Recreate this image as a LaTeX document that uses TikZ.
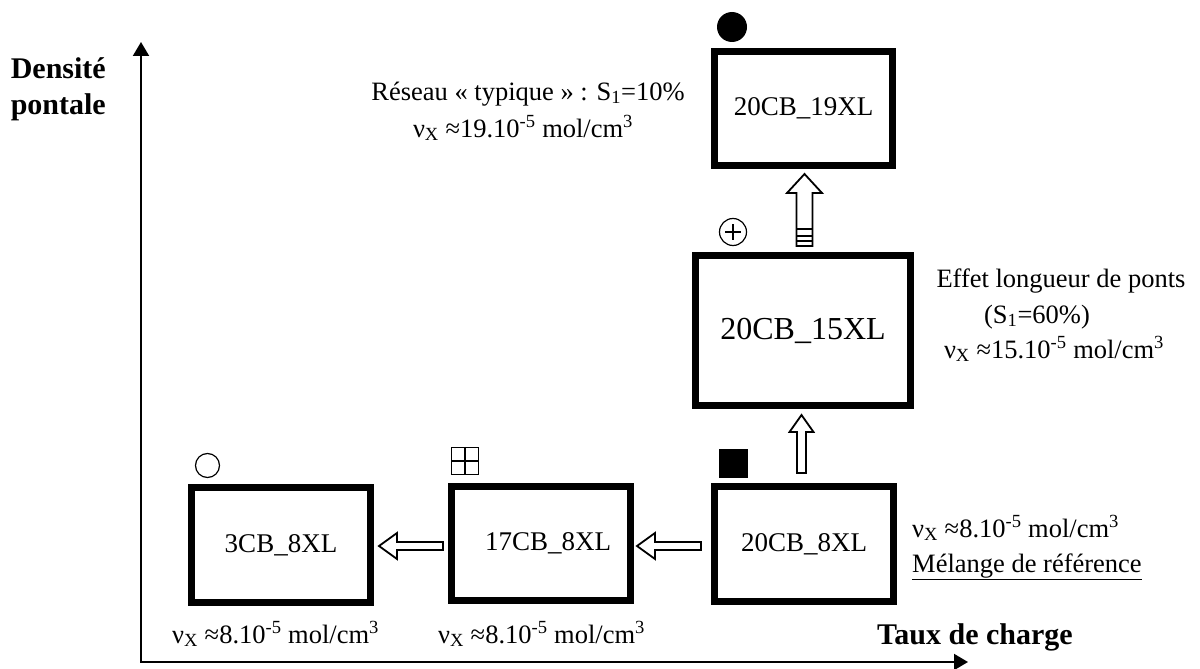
\documentclass[tikz,border=0pt]{standalone}
\usepackage{fontspec}
\setmainfont{Liberation Serif}
\usetikzlibrary{calc,arrows.meta}
\newcommand{\nuX}{ν\textsubscript{X}}
\newcommand{\mypow}[1]{\textsuperscript{#1}}
\begin{document}
\begin{tikzpicture}[x=1pt,y=-1pt,
  box/.style={draw, line width=7pt, rectangle, inner sep=0pt, font=\fontsize{27}{32}\selectfont},
  ann/.style={inner sep=0pt, font=\fontsize{26.5}{36}\selectfont, anchor=base},
  boldlab/.style={inner sep=0pt, font=\fontsize{30}{36}\selectfont\bfseries},
  axis/.style={line width=2pt, line cap=rect, -{Triangle[length=14pt,width=16pt]}},
  blk/.style={draw, line width=1.8pt, fill=white, line join=miter},
  thinline/.style={line width=1.2pt}]
\useasboundingbox (0,0) rectangle (1200,669);

% axes
\coordinate (O) at (141,662);
\coordinate (ytip) at (141,42);
\coordinate (xtip) at (968,662);
\draw[axis] (O) -- (ytip);
\draw[axis] (O) -- (xtip);

% boxes
\node[box, minimum width=178pt, minimum height=114pt] (b19) at (803.5,108.5) {20CB\_19XL};
\node[box, minimum width=215pt, minimum height=150pt, font=\fontsize{32}{38}\selectfont] (b15) at (803,330.5) {20CB\_15XL};
\node[box, minimum width=179pt, minimum height=115pt] (b8) at (804,544) {20CB\_8XL};
\node[box, minimum width=179pt, minimum height=114pt] (b17) at (541,543.5) {\hspace*{14pt}17CB\_8XL};
\node[box, minimum width=179pt, minimum height=115pt] (b3) at (281,545) {3CB\_8XL};

% block arrow b8 -> b15
\coordinate (a1tip) at ($(b15.south)+(-1.5,6)$);
\coordinate (a1tail) at ($(b8.north)+(-2.5,-10)$);
\draw[blk] let \p1=(a1tip), \p2=(a1tail) in
  (\x1,\y1) -- (\x1+12pt,\y1-17pt) -- (\x1+4.5pt,\y1-17pt) -- (\x1+4.5pt,\y2)
  -- (\x1-4.5pt,\y2) -- (\x1-4.5pt,\y1-17pt) -- (\x1-12pt,\y1-17pt) -- cycle;

% block arrow b15 -> b19
\coordinate (a2tip) at ($(b19.south)+(1,5)$);
\coordinate (a2tail) at ($(b15.north)+(2,-6)$);
\draw[blk] let \p1=(a2tip), \p2=(a2tail) in
  (\x1,\y1) -- (\x1+17.5pt,\y1-19pt) -- (\x1+8pt,\y1-19pt) -- (\x1+8pt,\y2)
  -- (\x1-8pt,\y2) -- (\x1-8pt,\y1-19pt) -- (\x1-17.5pt,\y1-19pt) -- cycle;
\draw[line width=1.8pt] let \p1=(a2tip), \p2=(a2tail) in
  (\x1-8pt,\y2+17pt) -- (\x1+8pt,\y2+17pt)
  (\x1-8pt,\y2+10pt) -- (\x1+8pt,\y2+10pt)
  (\x1-8pt,\y2+5pt) -- (\x1+8pt,\y2+5pt);

% block arrow b17 -> b3
\coordinate (l1tip) at ($(b3.east)+(5,1)$);
\coordinate (l1tail) at ($(b17.west)+(-5,2.5)$);
\draw[blk] let \p1=(l1tip), \p2=(l1tail) in
  (\x1,\y1) -- (\x1+18pt,\y1+13pt) -- (\x1+18pt,\y1+4pt) -- (\x2,\y1+4pt)
  -- (\x2,\y1-4pt) -- (\x1+18pt,\y1-4pt) -- (\x1+18pt,\y1-13pt) -- cycle;

% block arrow b8 -> b17
\coordinate (l2tip) at ($(b17.east)+(3,2.5)$);
\coordinate (l2tail) at ($(b8.west)+(-10,2)$);
\draw[blk] let \p1=(l2tip), \p2=(l2tail) in
  (\x1,\y1) -- (\x1+18pt,\y1+13pt) -- (\x1+18pt,\y1+4pt) -- (\x2,\y1+4pt)
  -- (\x2,\y1-4pt) -- (\x1+18pt,\y1-4pt) -- (\x1+18pt,\y1-13pt) -- cycle;

% markers
\node[circle, fill, inner sep=0pt, minimum size=30pt] (m19) at (732,27) {};
\node[circle, draw, thinline, inner sep=0pt, minimum size=27pt] (m15) at (733,232) {};
\draw[thinline] ($(m15.center)+(-8,0)$) -- ($(m15.center)+(8,0)$)
                ($(m15.center)+(0,-8)$) -- ($(m15.center)+(0,8)$);
\node[circle, draw, thinline, inner sep=0pt, minimum size=24pt] (m3) at (207.5,465.5) {};
\node[rectangle, draw, thinline, inner sep=0pt, minimum size=27pt] (m17) at (465,461) {};
\draw[thinline] (m17.north) -- (m17.south) (m17.west) -- (m17.east);
\node[rectangle, fill, inner sep=0pt, minimum size=29pt] (m8) at (733.5,463.5) {};

% annotations
\node[ann] (t19a) at (528,100) {Réseau « typique » : S\textsubscript{1}=10\%};
\node[ann] (t19b) at (523,137) {\nuX{} ≈19.10\mypow{-5} mol/cm\mypow{3}};
\node[ann] (t15a) at (1061,287) {Effet longueur de ponts};
\node[ann] (t15b) at (1037,323) {(S\textsubscript{1}=60\%)};
\node[ann] (t15c) at (1054,358) {\nuX{} ≈15.10\mypow{-5} mol/cm\mypow{3}};
\node[ann, anchor=base west] (t8a) at (912,537) {\nuX{} ≈8.10\mypow{-5} mol/cm\mypow{3}};
\node[ann, anchor=base west] (t8b) at (912,572) {\underline{Mélange de référence}};
\node[ann, anchor=base west] (t3) at (172,643) {\nuX{} ≈8.10\mypow{-5} mol/cm\mypow{3}};
\node[ann, anchor=base west] (t17) at (438,643) {\nuX{} ≈8.10\mypow{-5} mol/cm\mypow{3}};

% axis labels
\node[boldlab, anchor=base west] (xlab) at (877,644) {Taux de charge};
\node[boldlab, anchor=base east] (ylab1) at (106,78) {Densité};
\node[boldlab, anchor=base east] (ylab2) at (106,114) {pontale};
\end{tikzpicture}
\end{document}
